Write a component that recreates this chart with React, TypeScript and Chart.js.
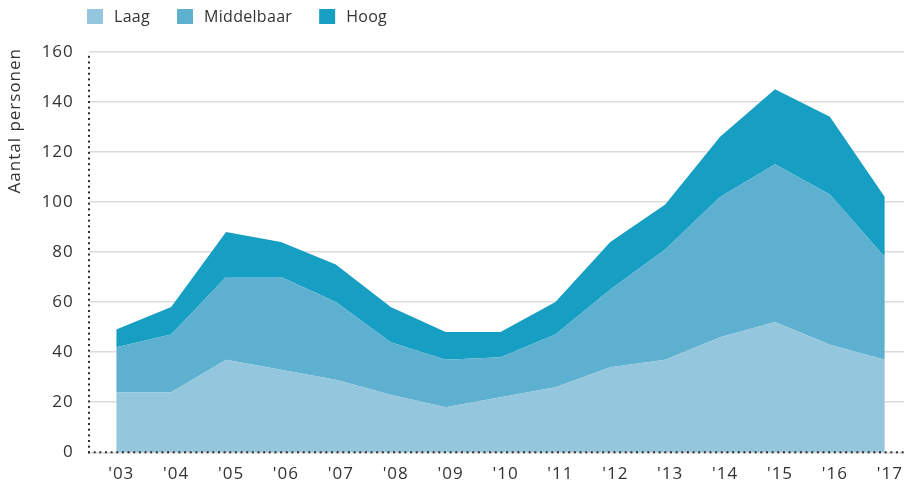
import React, { useEffect, useRef } from "react";
import { Chart, registerables } from "chart.js";

Chart.register(...registerables);

const years = ["'03", "'04", "'05", "'06", "'07", "'08", "'09", "'10", "'11", "'12", "'13", "'14", "'15", "'16", "'17"];
const laag = [24, 24, 37, 33, 29, 23, 18, 22, 26, 34, 37, 46, 52, 43, 37];
const middelbaar = [18, 23, 33, 37, 31, 21, 19, 16, 21, 31, 44, 56, 63, 60, 41];
const hoog = [7, 11, 18, 14, 15, 14, 11, 10, 13, 19, 18, 24, 30, 31, 24];
const seriesNames = ["Laag", "Middelbaar", "Hoog"];
const seriesColors = ["#94c6dd", "#5eb0d0", "#179fc3"];
const yTicks = [0, 20, 40, 60, 80, 100, 120, 140, 160];
const yTitle = "Aantal personen";

const FONT = "'Open Sans', sans-serif";
const TEXT = "#333333";

const spacingPlugin = {
  id: "letterSpacing",
  beforeDraw(chart: any) {
    chart.ctx.letterSpacing = "1px";
  },
};

const decorPlugin = {
  id: "decor",
  afterDraw(chart: any) {
    const ctx = chart.ctx;
    const area = chart.chartArea;
    ctx.save();
    // dotted axes
    ctx.fillStyle = "#2b2b2b";
    const step = 5.65;
    const x0 = Math.round(area.left) - 1;
    const yb = area.bottom - 1;
    for (let y = yb; y >= area.top - 1; y -= step) ctx.fillRect(x0, y, 2, 2);
    for (let x = x0; x <= chart.width; x += step) ctx.fillRect(x, yb, 2, 2);
    // legend
    ctx.letterSpacing = "0.3px";
    ctx.font = `16px ${FONT}`;
    ctx.textBaseline = "middle";
    ctx.textAlign = "left";
    let x = 87;
    const y = 9;
    chart.data.datasets.forEach((ds: any) => {
      ctx.fillStyle = ds.backgroundColor;
      ctx.fillRect(x, y, 16, 15);
      ctx.fillStyle = TEXT;
      ctx.fillText(ds.label, x + 27, y + 8);
      x += 27 + ctx.measureText(ds.label).width + 27;
    });
    // y title
    ctx.letterSpacing = "1px";
    ctx.font = `17px ${FONT}`;
    ctx.translate(15, 48);
    ctx.rotate(-Math.PI / 2);
    ctx.textAlign = "right";
    ctx.fillStyle = TEXT;
    ctx.fillText(yTitle, 0, 0);
    ctx.restore();
    ctx.letterSpacing = "0px";
  },
};

export default function App() {
  const ref = useRef<HTMLCanvasElement | null>(null);
  useEffect(() => {
    if (!ref.current) return;
    const toPts = (arr: number[]) => arr.map((v, i) => ({ x: i, y: v }));
    const all = [laag, middelbaar, hoog];
    const chart = new Chart(ref.current, {
      type: "line",
      data: {
        datasets: all.map((arr, i) => ({
          label: seriesNames[i],
          data: toPts(arr),
          backgroundColor: seriesColors[i],
          borderColor: seriesColors[i],
          borderWidth: 0,
          pointRadius: 0,
          fill: i === 0 ? "origin" : "-1",
          tension: 0,
        })),
      },
      options: {
        animation: false,
        responsive: true,
        maintainAspectRatio: false,
        layout: { padding: { top: 51.7, right: 0, left: 0, bottom: 0 } },
        plugins: { legend: { display: false }, tooltip: { enabled: false } },
        scales: {
          x: {
            type: "linear",
            min: -0.5,
            max: 14.35,
            grid: { display: false, drawTicks: false },
            border: { display: false },
            afterBuildTicks: (scale: any) => {
              scale.ticks = years.map((_, i) => ({ value: i }));
            },
            afterFit: (scale: any) => {
              scale.height = 491 - 452.3;
              scale.paddingLeft = 0;
              scale.paddingRight = 0;
            },
            ticks: {
              autoSkip: false,
              maxRotation: 0,
              padding: 12,
              labelOffset: 5,
              color: TEXT,
              font: { family: FONT, size: 17 },
              callback: (v: any) => years[Math.round(v)] ?? "",
            },
          },
          y: {
            stacked: true,
            min: 0,
            max: 160,
            afterBuildTicks: (scale: any) => {
              scale.ticks = yTicks.map((v) => ({ value: v }));
            },
            afterFit: (scale: any) => {
              scale.width = 88.8;
              scale.paddingTop = 0;
              scale.paddingBottom = 0;
            },
            grid: { color: "#dcdcdc", lineWidth: 1.5, drawTicks: false },
            border: { display: false },
            ticks: {
              padding: 15,
              color: TEXT,
              font: { family: FONT, size: 17 },
            },
          },
        },
      } as any,
      plugins: [spacingPlugin, decorPlugin],
    });
    return () => chart.destroy();
  }, []);
  return (
    <div style={{ position: "fixed", left: 0, top: 0, width: 904, height: 491, background: "#fff" }}>
      <canvas ref={ref} />
    </div>
  );
}
